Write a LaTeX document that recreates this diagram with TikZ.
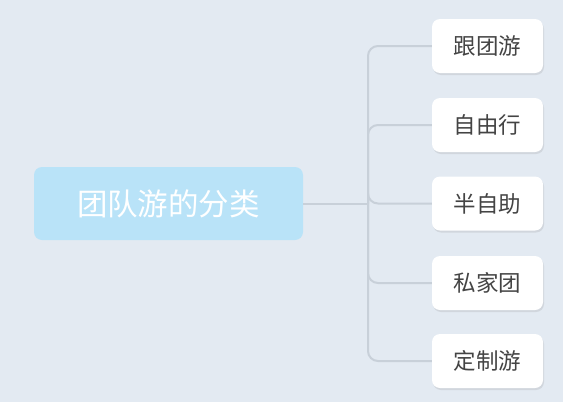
\documentclass[tikz,border=0pt]{standalone}
\usepackage{fontspec}
\setmainfont{Noto Sans CJK SC}
\usetikzlibrary{shadows}
\definecolor{bgcol}{HTML}{E3EAF2}
\definecolor{rootcol}{HTML}{B9E3F8}
\definecolor{linkcol}{HTML}{C8D0D9}
\definecolor{txtcol}{HTML}{444444}
\tikzset{
	rootbox/.style={fill=rootcol, rounded corners=8pt, minimum width=269pt, minimum height=73pt, text=white, font=\fontsize{30.5}{33}\selectfont},
	kidbox/.style={fill=white, rounded corners=8pt, minimum width=111pt, minimum height=54pt, text=txtcol, font=\fontsize{22.5}{25}\selectfont, drop shadow={opacity=0.18, shadow xshift=1pt, shadow yshift=-2pt}},
	link/.style={draw=linkcol, line width=2pt, rounded corners=10pt}
}
\begin{document}
\begin{tikzpicture}[x=1pt, y=-1pt]
		\fill[bgcol] (0,0) rectangle (563,402);
		\useasboundingbox (0,0) rectangle (563,402);
		\node[rootbox] (root) at (168.5,203.5) {团队游的分类};
		\coordinate (fork) at (368,203.5);
		\node[kidbox] (kid1) at (487.5,46) {跟团游};
		\node[kidbox] (kid2) at (487.5,125) {自由行};
		\node[kidbox] (kid3) at (487.5,203.5) {半自助};
		\node[kidbox] (kid4) at (487.5,283) {私家团};
		\node[kidbox] (kid5) at (487.5,361) {定制游};
		
		\draw[link] (root.east) -- (fork);
		\foreach \k in {1,...,5}
			\draw[link] (fork) |- (kid\k.west);
	\end{tikzpicture}
\end{document}
